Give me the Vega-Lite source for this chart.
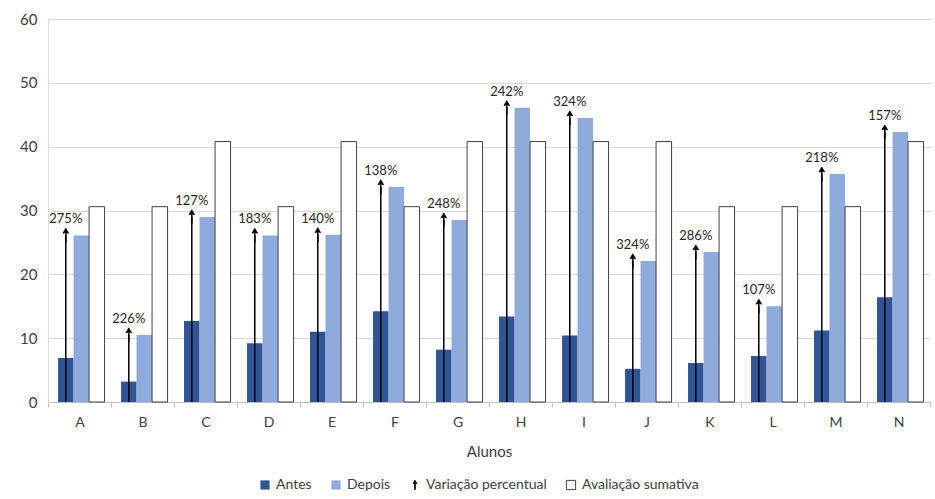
{
  "$schema": "https://vega.github.io/schema/vega-lite/v6.json",
  "width": 882,
  "height": 383,
  "autosize": {"type": "none"},
  "padding": {"left": 48, "top": 19, "right": 5, "bottom": 97},
  "background": "white",
  "config": {
    "font": "Lato",
    "view": {"stroke": null},
    "legend": {
      "orient": "none",
      "legendX": 210,
      "legendY": 459,
      "direction": "horizontal",
      "labelFontSize": 14,
      "labelColor": "#404040",
      "symbolSize": 85,
      "symbolStrokeWidth": 1,
      "symbolOpacity": 1,
      "columnPadding": 17,
      "labelOffset": 4
    }
  },
  "data": {
    "values": [
      {"aluno": "A", "Antes": 6.9, "Depois": 26.1, "Avaliação sumativa": 30.6, "Variação percentual": 2.75},
      {"aluno": "B", "Antes": 3.2, "Depois": 10.5, "Avaliação sumativa": 30.6, "Variação percentual": 2.26},
      {"aluno": "C", "Antes": 12.7, "Depois": 29.0, "Avaliação sumativa": 40.8, "Variação percentual": 1.27},
      {"aluno": "D", "Antes": 9.2, "Depois": 26.1, "Avaliação sumativa": 30.6, "Variação percentual": 1.83},
      {"aluno": "E", "Antes": 11.0, "Depois": 26.2, "Avaliação sumativa": 40.8, "Variação percentual": 1.40},
      {"aluno": "F", "Antes": 14.2, "Depois": 33.7, "Avaliação sumativa": 30.6, "Variação percentual": 1.38},
      {"aluno": "G", "Antes": 8.2, "Depois": 28.5, "Avaliação sumativa": 40.8, "Variação percentual": 2.48},
      {"aluno": "H", "Antes": 13.4, "Depois": 46.1, "Avaliação sumativa": 40.8, "Variação percentual": 2.42},
      {"aluno": "I", "Antes": 10.4, "Depois": 44.5, "Avaliação sumativa": 40.8, "Variação percentual": 3.24},
      {"aluno": "J", "Antes": 5.2, "Depois": 22.1, "Avaliação sumativa": 40.8, "Variação percentual": 3.24},
      {"aluno": "K", "Antes": 6.1, "Depois": 23.5, "Avaliação sumativa": 30.6, "Variação percentual": 2.86},
      {"aluno": "L", "Antes": 7.2, "Depois": 15.0, "Avaliação sumativa": 30.6, "Variação percentual": 1.07},
      {"aluno": "M", "Antes": 11.2, "Depois": 35.7, "Avaliação sumativa": 30.6, "Variação percentual": 2.18},
      {"aluno": "N", "Antes": 16.4, "Depois": 42.3, "Avaliação sumativa": 40.8, "Variação percentual": 1.57}
    ]
  },
  "encoding": {
    "x": {
      "field": "aluno",
      "type": "nominal",
      "title": "Alunos",
      "scale": {"paddingInner": 0, "paddingOuter": 0},
      "axis": {
        "labelAngle": 0,
        "domainColor": "#BFBFBF",
        "tickColor": "#BFBFBF",
        "tickSize": 5,
        "tickBand": "extent",
        "labelFontSize": 14,
        "labelColor": "#404040",
        "labelPadding": 8,
        "titleFontSize": 15,
        "titleFontWeight": "normal",
        "titleColor": "#404040",
        "titlePadding": 15,
        "grid": false
      }
    }
  },
  "layer": [
    {
      "transform": [{"fold": ["Antes", "Depois", "Avaliação sumativa"], "as": ["serie", "valor"]}],
      "mark": {"type": "bar", "strokeWidth": 1},
      "encoding": {
        "xOffset": {
          "field": "serie",
          "type": "nominal",
          "scale": {"domain": ["Antes", "Depois", "Avaliação sumativa"], "paddingInner": 0, "paddingOuter": 0.53, "align": 0.61}
        },
        "y": {
          "field": "valor",
          "type": "quantitative",
          "title": null,
          "scale": {"domain": [0, 60]},
          "axis": {
            "values": [0, 5, 10, 15, 20, 25, 30, 35, 40, 45, 50, 55, 60],
            "labelExpr": "datum.value % 10 === 0 ? datum.label : ''",
            "gridColor": "#D9D9D9",
            "gridOpacity": {"condition": {"test": "datum.value % 10 === 0", "value": 1}, "value": 0},
            "domainColor": "#D9D9D9",
            "tickColor": "#D9D9D9",
            "tickSize": -4,
            "labelPadding": 15,
            "labelFontSize": 15,
            "labelColor": "#404040"
          }
        },
        "fill": {
          "field": "serie",
          "type": "nominal",
          "title": null,
          "scale": {
            "domain": ["Antes", "Depois", "Variação percentual", "Avaliação sumativa"],
            "range": ["#2F5597", "#8FAADC", "#000000", "#FFFFFF"]
          }
        },
        "stroke": {
          "field": "serie",
          "type": "nominal",
          "title": null,
          "scale": {
            "domain": ["Antes", "Depois", "Variação percentual", "Avaliação sumativa"],
            "range": ["transparent", "transparent", "#000000", "#404040"]
          }
        }
      }
    },
    {
      "transform": [
        {"fold": ["Antes"], "as": ["pos", "antesv"]},
        {"fold": ["Variação percentual"], "as": ["var", "taxa"]}
      ],
      "layer": [
        {
          "mark": {"type": "rule", "color": "#000000", "strokeWidth": 1.5},
          "encoding": {
            "xOffset": {"field": "pos", "type": "nominal"},
            "y": {"field": "Depois", "type": "quantitative", "title": null},
            "y2": {"datum": 0}
          }
        },
        {
          "mark": {"type": "point", "filled": true, "size": 200, "strokeWidth": 0.8, "opacity": 1},
          "encoding": {
            "xOffset": {"field": "pos", "type": "nominal"},
            "y": {"field": "Depois", "type": "quantitative", "title": null},
            "fill": {"field": "var", "type": "nominal", "title": null},
            "stroke": {"field": "var", "type": "nominal", "title": null},
            "shape": {
              "field": "var",
              "type": "nominal",
              "title": null,
              "scale": {
                "domain": ["Antes", "Depois", "Variação percentual", "Avaliação sumativa"],
                "range": ["square", "square", "M0,-1L0.4,-0.3L0.05,-0.42L0.05,1L-0.05,1L-0.05,-0.42L-0.4,-0.3Z", "square"]
              }
            }
          }
        },
        {
          "mark": {"type": "text", "baseline": "bottom", "dy": -9, "fontSize": 13, "color": "#262626"},
          "encoding": {
            "xOffset": {"field": "pos", "type": "nominal"},
            "y": {"field": "Depois", "type": "quantitative", "title": null},
            "text": {"field": "taxa", "type": "quantitative", "format": ".0%"}
          }
        }
      ]
    }
  ]
}
